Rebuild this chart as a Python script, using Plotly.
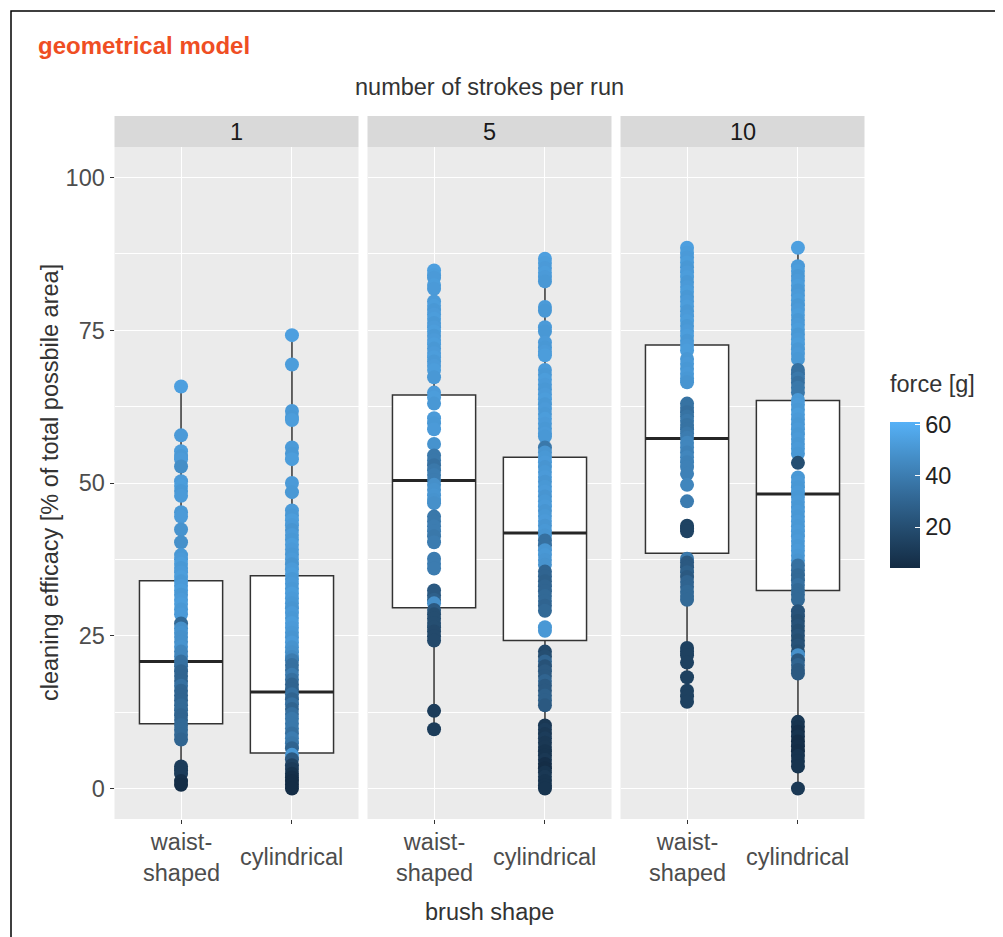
import plotly.graph_objects as go

# page is offset by the default 8px body margin
OFF = 8
W, H = 1003 - OFF, 937 - OFF

# ---------------- data ----------------
strokes = ["1", "5", "10"]
shape_labels = ["waist-<br>shaped", "cylindrical"]
shape_pos = [1, 2]

# box statistics, order: (1,waist),(1,cyl),(5,waist),(5,cyl),(10,waist),(10,cyl)
box_lower = [0.6, 0.0, 9.7, 0.0, 14.2, 0.0]
box_q1 = [10.6, 5.8, 29.6, 24.2, 38.5, 32.4]
box_median = [20.8, 15.8, 50.4, 41.8, 57.3, 48.2]
box_q3 = [34.0, 34.8, 64.4, 54.2, 72.6, 63.5]
box_upper = [65.8, 74.2, 84.8, 86.7, 88.5, 88.5]

# points: (cleaning efficacy %, force g)
pts_1_waist = [
    (65.8, 54), (57.8, 52), (55.2, 53), (54.4, 51), (53.9, 52), (52.7, 47),
    (50.3, 52), (49.5, 53), (48.7, 51), (47.9, 52), (45.2, 51), (44.5, 52),
    (42.4, 49), (40.3, 48), (38.2, 51), (37.5, 52), (36.8, 53), (36.1, 51),
    (35.4, 52), (34.6, 53), (33.9, 51), (33.2, 52), (32.4, 53), (31.7, 51),
    (30.9, 52), (30.2, 53), (29.3, 51), (28.5, 52), (27.0, 32), (26.2, 48),
    (25.5, 49), (24.8, 48), (24.0, 48), (23.2, 49), (22.4, 44), (21.6, 44),
    (20.8, 35), (20.0, 35), (19.2, 30), (18.4, 30), (17.6, 30), (16.8, 35),
    (16.0, 30), (15.2, 30), (14.4, 30), (13.6, 32), (12.8, 32), (12.0, 30),
    (11.2, 30), (10.4, 32), (9.6, 32), (8.8, 32), (8.0, 30), (3.6, 12),
    (3.0, 12), (2.4, 12), (1.2, 6), (0.6, 5),
]
pts_1_cyl = [
    (74.2, 54), (69.4, 53), (61.8, 52), (60.8, 51), (60.3, 53), (55.8, 52),
    (54.8, 51), (53.9, 53), (50.0, 52), (48.5, 51), (45.5, 52), (44.7, 51),
    (43.9, 53), (43.1, 52), (42.3, 50), (41.5, 52), (40.7, 51), (39.9, 53),
    (39.1, 52), (38.3, 51), (37.5, 52), (36.7, 50), (35.9, 52), (35.1, 53),
    (34.3, 51), (33.5, 52), (32.7, 51), (31.9, 53), (31.1, 52), (30.3, 51),
    (29.5, 50), (28.7, 52), (27.9, 51), (27.1, 53), (26.3, 52), (25.5, 51),
    (24.7, 50), (23.9, 52), (23.1, 49), (22.3, 48), (21.5, 46), (21.0, 40),
    (20.2, 35), (19.4, 35), (18.6, 40), (17.8, 35), (17.0, 30), (16.2, 30),
    (15.4, 35), (14.6, 30), (13.8, 35), (13.0, 30), (12.2, 35), (11.4, 38),
    (10.6, 38), (9.8, 38), (9.0, 35), (8.2, 40), (7.4, 38), (6.6, 30),
    (5.5, 51), (4.8, 25), (3.8, 15), (3.2, 12), (2.4, 8), (1.8, 6),
    (1.2, 5), (0.6, 5), (0.0, 5),
]
pts_5_waist = [
    (84.8, 54), (84.0, 53), (83.6, 52), (82.4, 53), (81.8, 52), (79.7, 52),
    (79.0, 53), (78.3, 51), (77.6, 52), (76.9, 53), (76.2, 51), (75.5, 52),
    (74.8, 53), (74.1, 51), (73.4, 52), (72.7, 53), (72.0, 51), (71.3, 52),
    (70.6, 53), (69.9, 51), (69.2, 52), (68.5, 53), (67.3, 51), (64.8, 52),
    (64.0, 53), (63.0, 51), (60.6, 52), (59.8, 51), (58.8, 52), (56.4, 49),
    (54.5, 38), (53.7, 38), (52.9, 35), (52.1, 38), (51.3, 40), (50.5, 40),
    (49.7, 48), (48.9, 49), (48.0, 50), (47.2, 49), (46.7, 48), (44.5, 38),
    (43.7, 38), (42.9, 40), (42.1, 40), (41.3, 38), (40.3, 40), (37.6, 40),
    (36.8, 40), (36.0, 40), (32.4, 25), (31.6, 25), (30.9, 28), (30.3, 48),
    (29.2, 25), (28.5, 20), (27.8, 20), (27.1, 20), (26.4, 20), (25.7, 18),
    (24.9, 18), (24.2, 18), (12.7, 12), (9.7, 12),
]
pts_5_cyl = [
    (86.7, 54), (86.0, 53), (85.2, 52), (84.4, 53), (83.7, 52), (83.0, 51),
    (78.8, 52), (78.2, 51), (75.5, 52), (74.8, 51), (73.0, 52), (72.2, 51),
    (71.5, 52), (70.9, 53), (68.5, 52), (67.7, 51), (66.9, 53), (66.1, 52),
    (65.3, 51), (64.5, 52), (63.7, 53), (62.9, 51), (62.1, 52), (61.3, 51),
    (60.5, 53), (59.7, 52), (58.9, 51), (58.1, 52), (57.6, 51), (55.8, 38),
    (55.0, 50), (54.2, 51), (53.4, 52), (52.6, 50), (51.8, 51), (51.0, 52),
    (50.2, 50), (49.4, 51), (48.6, 52), (47.8, 50), (47.0, 51), (46.2, 52),
    (45.4, 50), (44.6, 51), (43.8, 52), (43.0, 50), (42.2, 51), (41.4, 50),
    (40.6, 35), (39.8, 35), (39.0, 50), (38.2, 51), (37.4, 50), (36.6, 49),
    (35.5, 30), (34.7, 30), (33.9, 28), (33.1, 30), (32.3, 30), (31.5, 32),
    (30.7, 32), (29.9, 30), (29.1, 32), (26.4, 51), (25.8, 51), (22.4, 18),
    (21.6, 20), (20.8, 30), (20.0, 22), (19.2, 25), (18.4, 25), (17.6, 30),
    (16.8, 25), (16.0, 25), (15.2, 28), (14.4, 28), (13.6, 25), (10.3, 10),
    (9.6, 12), (8.9, 10), (8.2, 12), (7.5, 10), (6.8, 10), (6.1, 8),
    (5.4, 8), (4.7, 10), (4.0, 6), (3.3, 5), (2.6, 8), (1.9, 10),
    (1.2, 8), (0.5, 8), (0.0, 8),
]
pts_10_waist = [
    (88.5, 54), (87.7, 53), (86.9, 52), (86.1, 53), (85.3, 51), (84.5, 52),
    (83.7, 53), (82.9, 51), (82.1, 52), (81.3, 53), (80.5, 51), (79.7, 52),
    (78.9, 53), (78.1, 51), (77.3, 52), (76.5, 53), (75.7, 51), (74.9, 52),
    (74.1, 53), (73.3, 51), (72.5, 52), (71.7, 53), (70.3, 51), (69.5, 52),
    (68.7, 51), (67.9, 52), (67.1, 51), (66.5, 50), (63.0, 36), (62.3, 36),
    (61.6, 34), (60.9, 36), (60.2, 38), (59.5, 36), (58.8, 36), (58.1, 38),
    (57.4, 40), (56.6, 44), (55.8, 44), (55.0, 42), (54.2, 44), (53.4, 42),
    (52.6, 42), (51.5, 42), (49.7, 44), (47.0, 40), (43.0, 15), (42.6, 15),
    (42.1, 15), (37.6, 38), (37.0, 25), (36.2, 25), (35.4, 28), (34.6, 25),
    (33.8, 30), (33.0, 30), (32.2, 32), (31.5, 32), (30.9, 32), (23.0, 14),
    (22.4, 14), (21.8, 14), (20.6, 14), (18.2, 14), (16.0, 14), (15.1, 14),
    (14.2, 14),
]
pts_10_cyl = [
    (88.5, 54), (85.5, 52), (84.7, 53), (83.9, 51), (83.1, 52), (82.3, 53),
    (81.5, 51), (80.7, 52), (79.9, 53), (79.1, 51), (78.3, 52), (77.5, 53),
    (76.7, 51), (75.9, 52), (75.1, 53), (74.3, 51), (73.5, 52), (72.7, 53),
    (71.9, 51), (71.1, 52), (70.3, 51), (68.5, 35), (67.8, 35), (67.1, 38),
    (66.4, 35), (65.6, 38), (64.8, 38), (63.6, 51), (62.8, 52), (62.0, 51),
    (61.2, 53), (60.4, 52), (59.6, 51), (58.8, 52), (58.0, 51), (57.2, 52),
    (56.4, 51), (55.6, 52), (54.8, 51), (53.3, 20), (50.9, 51), (50.1, 52),
    (49.3, 51), (48.5, 52), (47.7, 51), (46.9, 52), (46.1, 51), (45.3, 52),
    (44.5, 51), (43.7, 52), (42.9, 51), (42.1, 52), (41.3, 51), (40.5, 52),
    (39.7, 51), (38.9, 52), (38.1, 51), (37.3, 50), (36.5, 35), (35.7, 35),
    (34.9, 32), (34.1, 32), (33.3, 35), (32.5, 32), (31.7, 32), (30.9, 32),
    (29.0, 22), (28.2, 22), (27.4, 20), (26.6, 22), (25.8, 20), (25.0, 22),
    (24.2, 20), (23.4, 22), (22.4, 20), (21.8, 48), (21.0, 25), (20.2, 30),
    (19.4, 25), (18.8, 25), (10.9, 10), (10.1, 8), (9.3, 6), (8.5, 8),
    (7.7, 5), (6.9, 6), (6.1, 5), (5.3, 8), (4.5, 8), (3.6, 8),
    (0.0, 10),
]
point_groups = [pts_1_waist, pts_1_cyl, pts_5_waist, pts_5_cyl, pts_10_waist, pts_10_cyl]

force_min, force_max = 4, 61
force_ticks = [20, 40, 60]
y_ticks = [0, 25, 50, 75, 100]
y_minor = [12.5, 37.5, 62.5, 87.5]

# ---------------- style ----------------
FONT = "Liberation Sans, Arial, Helvetica, sans-serif"
TXT = 23.5
panel_px = [(114.5, 358.5), (367.5, 611.5), (620.5, 864.5)]
panel_top, panel_bot = 147, 819
strip_top = 116
box_w = 0.75
colorscale = [[0.0, "#132B43"], [0.25, "#234A6C"], [0.5, "#336A98"],
              [0.75, "#448DC6"], [1.0, "#56B1F7"]]


def fx(p):
    return (p - OFF) / W


def fy(p):
    return 1 - (p - OFF) / H


fig = go.Figure()
shapes = []
annotations = []

for i, stroke in enumerate(strokes):
    sfx = "" if i == 0 else str(i + 1)
    xa, ya = "x" + sfx, "y" + sfx
    for j, pos in enumerate(shape_pos):
        k = i * 2 + j
        fig.add_trace(go.Box(
            x=[pos], q1=[box_q1[k]], median=[box_median[k]], q3=[box_q3[k]],
            lowerfence=[box_lower[k]], upperfence=[box_upper[k]],
            width=box_w, fillcolor="white", whiskerwidth=0,
            line=dict(color="#333333", width=1.5), boxpoints=False,
            xaxis=xa, yaxis=ya, showlegend=False, hoverinfo="skip"))
    for j, pos in enumerate(shape_pos):
        k = i * 2 + j
        fig.add_trace(go.Scatter(
            x=[pos - box_w / 2, pos + box_w / 2], y=[box_median[k], box_median[k]],
            mode="lines", line=dict(color="#262626", width=3),
            xaxis=xa, yaxis=ya, showlegend=False, hoverinfo="skip"))
    for j, pos in enumerate(shape_pos):
        k = i * 2 + j
        pts = point_groups[k]
        fig.add_trace(go.Scatter(
            x=[pos] * len(pts), y=[p[0] for p in pts], mode="markers",
            marker=dict(size=14, color=[p[1] for p in pts], colorscale=colorscale,
                        cmin=force_min, cmax=force_max, line=dict(width=0),
                        showscale=(k == 0),
                        colorbar=dict(
                            x=fx(890), xanchor="left", xpad=0,
                            y=fy(422), yanchor="top", ypad=0,
                            len=146, lenmode="pixels", thickness=30,
                            thicknessmode="pixels", outlinewidth=0,
                            tickvals=force_ticks, ticks="inside", ticklen=5,
                            tickcolor="white", tickwidth=1,
                            tickfont=dict(family=FONT, size=TXT, color="#222222"))),
            xaxis=xa, yaxis=ya, showlegend=False, hoverinfo="skip"))

    x0, x1 = panel_px[i]
    fig.layout["xaxis" + sfx] = dict(
        domain=[fx(x0), fx(x1)], range=[0.4, 2.6], anchor=ya,
        tickvals=shape_pos, showticklabels=False, ticks="outside", ticklen=4,
        tickcolor="#333333", showgrid=True, gridcolor="white", gridwidth=1.3,
        zeroline=False, showline=False, fixedrange=True)
    fig.layout["yaxis" + sfx] = dict(
        domain=[fy(panel_bot), fy(panel_top)], range=[-5, 105], anchor=xa,
        tickvals=y_ticks, showticklabels=(i == 0),
        ticks="outside" if i == 0 else "", ticklen=4, tickcolor="#333333",
        tickfont=dict(family=FONT, size=TXT, color="#4D4D4D"),
        showgrid=True, gridcolor="white", gridwidth=1.3, zeroline=False,
        minor=dict(tickvals=y_minor, showgrid=True, gridcolor="white",
                   gridwidth=0.6, ticks=""),
        showline=False, fixedrange=True)

    shapes.append(dict(type="rect", xref="paper", yref="paper",
                       x0=fx(x0), x1=fx(x1), y0=fy(panel_top), y1=fy(strip_top),
                       fillcolor="#D9D9D9", line=dict(width=0), layer="below"))
    annotations.append(dict(text=stroke, xref=xa, yref="paper", x=1.5,
                            y=fy(132), showarrow=False, yanchor="middle",
                            font=dict(family=FONT, size=TXT, color="#1A1A1A")))
    for j, pos in enumerate(shape_pos):
        annotations.append(dict(text=shape_labels[j], xref=xa, yref="paper",
                                x=pos, y=fy(857), showarrow=False,
                                yanchor="middle", xanchor="center",
                                font=dict(family=FONT, size=TXT, color="#4D4D4D")))

# outer border
shapes.append(dict(type="rect", xref="paper", yref="paper",
                   x0=fx(11), x1=fx(997), y0=-0.05, y1=fy(11),
                   line=dict(color="black", width=1.5), fillcolor="rgba(0,0,0,0)"))

annotations += [
    dict(text="<b>geometrical model</b>", xref="paper", yref="paper",
         x=fx(36), y=fy(45), xanchor="left", yanchor="middle", showarrow=False,
         font=dict(family=FONT, size=24, color="#EF4E23")),
    dict(text="number of strokes per run", xref="paper", yref="paper",
         x=fx(489.5), y=fy(87), xanchor="center", yanchor="middle", showarrow=False,
         font=dict(family=FONT, size=TXT, color="#333333")),
    dict(text="brush shape", xref="paper", yref="paper",
         x=fx(489.5), y=fy(912), xanchor="center", yanchor="middle", showarrow=False,
         font=dict(family=FONT, size=TXT, color="#333333")),
    dict(text="cleaning efficacy [% of total possbile area]", xref="paper",
         yref="paper", x=fx(50), y=fy(483), textangle=-90, xanchor="center",
         yanchor="middle", showarrow=False,
         font=dict(family=FONT, size=TXT, color="#333333")),
    dict(text="force [g]", xref="paper", yref="paper",
         x=fx(888), y=fy(384), xanchor="left", yanchor="middle", showarrow=False,
         font=dict(family=FONT, size=TXT, color="#333333")),
]

fig.update_layout(
    width=W, height=H, margin=dict(l=0, r=0, t=0, b=0),
    paper_bgcolor="white", plot_bgcolor="#EBEBEB",
    shapes=shapes, annotations=annotations, showlegend=False,
    font=dict(family=FONT, size=TXT, color="#333333"),
)

fig.write_html("out.html")
